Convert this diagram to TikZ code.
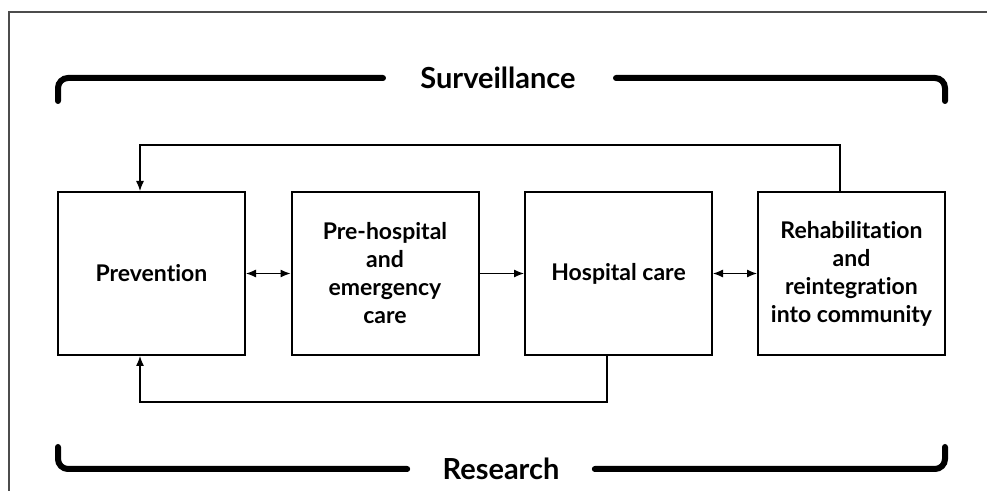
\documentclass[tikz,border=0pt]{standalone}
\usepackage{fontspec}
\setmainfont[Ligatures={NoCommon,TeX}]{Lato}
\usetikzlibrary{arrows.meta}
\tikzset{
  stage/.style={draw, line width=1pt, minimum width=93.5pt, minimum height=81.5pt,
    inner sep=0pt, align=center, font=\bfseries\fontsize{11.5}{14}\selectfont},
  brace/.style={line width=3pt, line cap=round, rounded corners=5pt},
  band/.style={inner sep=0pt, font=\bfseries\fontsize{14.5}{17}\selectfont},
  link/.style={line width=0.6pt, -{Latex[length=5pt,width=4pt]}},
  both/.style={line width=0.6pt, {Latex[length=5pt,width=4pt]}-{Latex[length=5pt,width=4pt]}}
}
\begin{document}
\begin{tikzpicture}[x=0.5pt, y=-0.5pt]
      \useasboundingbox (0,0) rectangle (987,491);
      \draw[line width=0.7pt, black!70] (987,12) -- (9,12) -- (9,491); % frame
      %
      \node[band] (surv) at (498,78) {Surveillance};   % top band
      \node[band] (res)  at (501,469) {Research};      % bottom band
      %
      \coordinate (stl) at (58,101);
      \coordinate (str) at (945,101);
      \coordinate (sbl) at (58,447);
      \coordinate (sbr) at (945,447);
      %
      \draw[brace] (stl) |- ([xshift=-18.5pt]surv.west);
      \draw[brace] (str) |- ([xshift=20pt]surv.east);
      \draw[brace] (sbl) |- ([xshift=-17.5pt]res.west);
      \draw[brace] (sbr) |- ([xshift=17.5pt]res.east);
      %
      \node[stage] (prev)  at (151.5,273.5) {Prevention};           % first row
      \node[stage] (pre)   at (385,273.5) {Pre-hospital\\and\\emergency\\care};
      \node[stage] (hosp)  at (618.5,273.5) {Hospital care};
      \node[stage] (rehab) at (851.5,273.5) {Rehabilitation\\and\\reintegration\\into community};
      %
      \draw[both] (prev) -- (pre);
      \draw[link] (pre) -- (hosp);
      \draw[both] (hosp) -- (rehab);
      %%
      \coordinate (pn) at ([xshift=-5.75pt]prev.north);   % feedback loops
      \coordinate (ps) at ([xshift=-5.75pt]prev.south);
      \coordinate (rn) at ([xshift=-5.75pt]rehab.north);
      \coordinate (hs) at ([xshift=-5.75pt]hosp.south);
      \coordinate (top) at (0,145);
      \coordinate (bot) at (0,402);
      \draw[link] (rn) |- (top -| pn) -- (pn);
      \draw[link] (hs) |- (bot -| ps) -- (ps);
      %
\end{tikzpicture}
\end{document}
